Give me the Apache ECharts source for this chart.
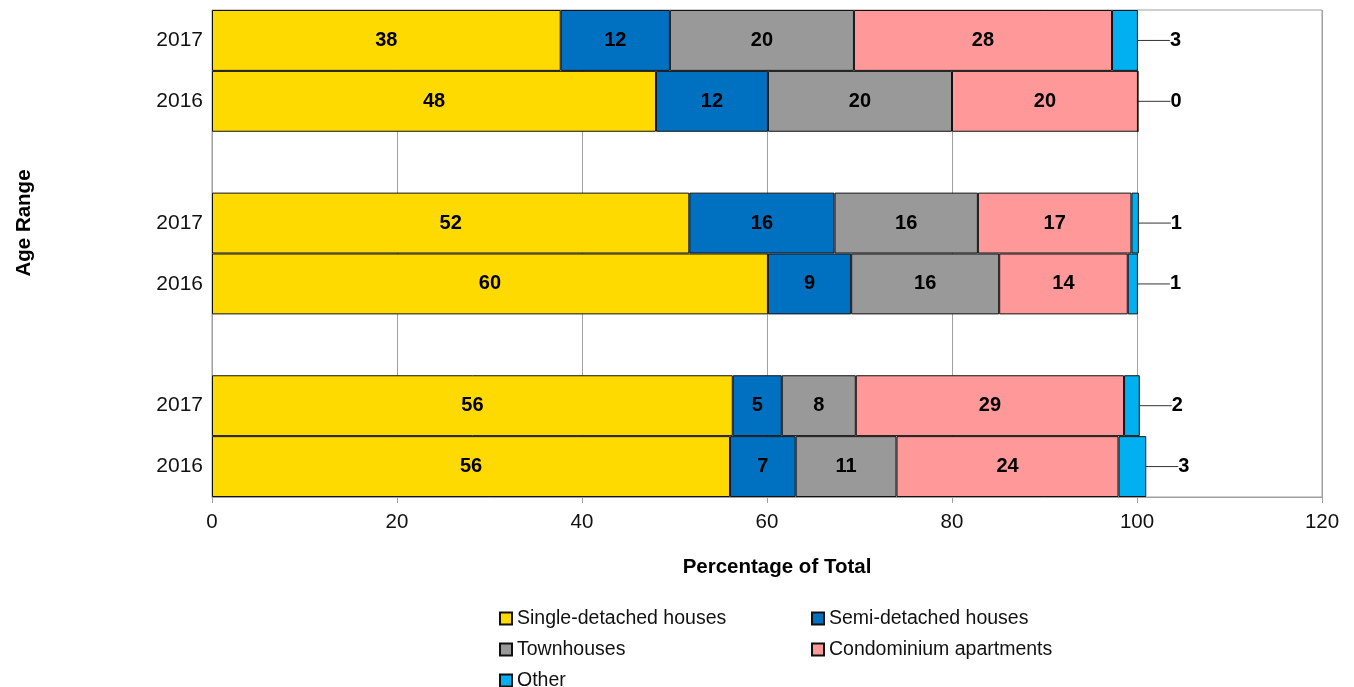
<!DOCTYPE html>
<html>
<head>
<meta charset="utf-8">
<script src="https://cdn.jsdelivr.net/npm/echarts@6/dist/echarts.min.js"></script>
<style>
  html, body { margin: 0; padding: 0; background: #fff; }
  #chart { width: 1354px; height: 687px; }
</style>
</head>
<body>
<div id="chart"></div>
<script>
// rows from top to bottom, '' rows are spacers between the groups
const rows = ["2017", "2016", "", "2017", "2016", "", "2017", "2016"];
const singleDetached = [37.7, 48.0, "-", 51.6, 60.1, "-", 56.3, 56.0];
const semiDetached = [11.8, 12.1, "-", 15.7, 9.0, "-", 5.3, 7.1];
const townhouses = [19.9, 19.9, "-", 15.5, 16.0, "-", 8.0, 10.9];
const condos = [27.9, 20.1, "-", 16.6, 13.9, "-", 29.0, 24.0];
const other = [2.8, 0, "-", 0.8, 1.1, "-", 1.7, 3.0];
const xTicks = [0, 20, 40, 60, 80, 100, 120];

const font = "Liberation Sans, Arial, sans-serif";

function barSeries(name, data, color, outside) {
  const s = {
    name: name,
    type: "bar",
    stack: "total",
    data: data,
    barWidth: "100%",
    itemStyle: { color: color, borderColor: "#111", borderWidth: 1 },
    label: {
      show: true,
      position: "inside",
      fontFamily: font,
      fontSize: 20,
      fontWeight: "bold",
      color: "#000",
      formatter: p => Math.round(p.value)
    }
  };
  if (outside) {
    // Other: label pulled out to the right with a leader line
    s.label.position = "right";
    s.label.distance = 0;
    s.label.padding = [0, 0, 0, 6];
    s.labelLayout = { dx: 26 };
    s.labelLine = { show: true, lineStyle: { color: "#333", width: 1 } };
  }
  return s;
}

const chart = echarts.init(document.getElementById("chart"));
chart.setOption({
  animation: false,
  backgroundColor: "#fff",
  grid: {
    left: 212, right: 32, top: 10, bottom: 190,
    show: true, borderColor: "#a0a0a0", borderWidth: 1
  },
  xAxis: {
    type: "value",
    min: xTicks[0],
    max: xTicks[xTicks.length - 1],
    interval: 20,
    name: "Percentage of Total",
    nameLocation: "middle",
    nameGap: 60,
    nameTextStyle: { fontFamily: font, fontSize: 20.5, fontWeight: "bold", color: "#000", padding: [0, 0, 0, 20] },
    axisLine: { show: true, lineStyle: { color: "#a0a0a0" } },
    axisTick: { show: true, length: 6, lineStyle: { color: "#a0a0a0" } },
    axisLabel: { fontFamily: font, fontSize: 20.5, color: "#111", margin: 15 },
    splitLine: { show: true, lineStyle: { color: "#a0a0a0" } }
  },
  yAxis: {
    type: "category",
    data: rows,
    inverse: true,
    axisLine: { show: true, lineStyle: { color: "#a0a0a0" } },
    axisTick: { show: false },
    axisLabel: { fontFamily: font, fontSize: 21, color: "#111", margin: 9 },
    splitLine: { show: false }
  },
  graphic: [{
    type: "text",
    x: 24, y: 223,
    rotation: Math.PI / 2,
    style: {
      text: "Age Range",
      fontFamily: font, fontSize: 20.5, fontWeight: "bold", fill: "#000",
      textAlign: "center", textVerticalAlign: "middle"
    }
  }],
  legend: {
    left: 494, top: 603,
    width: 660,
    itemWidth: 12, itemHeight: 12, itemGap: 10,
    icon: "rect",
    textStyle: { fontFamily: font, fontSize: 19.5, color: "#111", width: 284, lineHeight: 21 }
  },
  series: [
    barSeries("Single-detached houses", singleDetached, "#FFDA00"),
    barSeries("Semi-detached houses", semiDetached, "#0070C0"),
    barSeries("Townhouses", townhouses, "#999999"),
    barSeries("Condominium apartments", condos, "#FF9999"),
    barSeries("Other", other, "#00B0F0", true)
  ]
});
</script>
</body>
</html>
